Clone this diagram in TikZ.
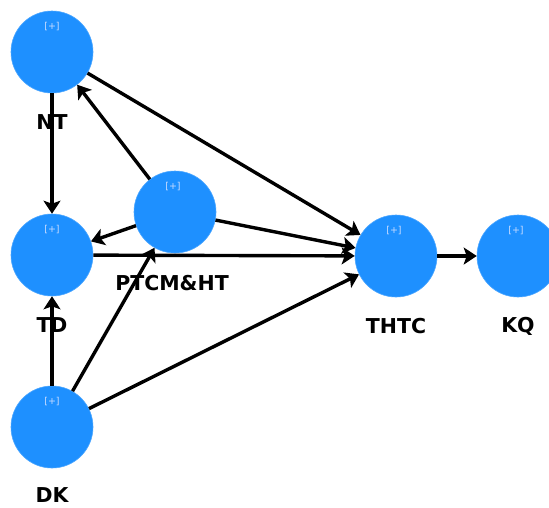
\documentclass[tikz,border=0pt]{standalone}
\usepackage{fontspec}
\setmainfont{DejaVu Sans}
\usetikzlibrary{arrows.meta}
\definecolor{lvblue}{RGB}{30,144,255}
\definecolor{plus}{RGB}{200,220,255}
\tikzset{
  lv/.style={circle, fill=lvblue, draw=lvblue!80!white, line width=0.6pt, minimum size=82pt, inner sep=0pt},
  lbl/.style={font=\bfseries\fontsize{20.5}{20}\selectfont, text=black, inner sep=0pt},
  pl/.style={font=\fontsize{9.5}{9.5}\selectfont, text=plus, inner sep=0pt},
  conn/.style={draw=black, line width=3.4pt, -{Stealth[length=13pt,width=17pt,inset=3pt]}}
}
\begin{document}
\begin{tikzpicture}[x=1pt,y=-1pt]
\useasboundingbox (0,0) rectangle (549,507);
% constructs
\node[lv] (NT) at (52,52) {};
\node[lv] (TD) at (52,255) {};
\node[lv] (DK) at (52,427) {};
\node[lv] (PT) at (175,212) {};
\node[lv] (TH) at (396,256) {};
\node[lv] (KQ) at (518,256) {};
% [+] marks
\node[pl] (pNT) at (52,27) {[+]};
\node[pl] (pTD) at (52,230) {[+]};
\node[pl] (pDK) at (52,402) {[+]};
\node[pl] (pPT) at (173,187) {[+]};
\node[pl] (pTH) at (394,231) {[+]};
\node[pl] (pKQ) at (516,231) {[+]};
% paths
\draw[conn] (NT) -- (TD);
\draw[conn] (NT) -- (TH);
\draw[conn] (PT) -- (NT);
\draw[conn] (PT) -- (TD);
\draw[conn] (PT) -- (TH);
\draw[conn] (TD) -- (TH);
\draw[conn] (DK) -- (TD);
\draw[conn] (DK) -- (PT);
\draw[conn] (DK) -- (TH);
\draw[conn] (TH) -- (KQ);
% labels
\node[lbl] (lNT) at (52,122) {NT};
\node[lbl] (lTD) at (52,325) {TD};
\node[lbl] (lDK) at (52,495) {DK};
\node[lbl] (lPT) at (172,283) {PTCM\&HT};
\node[lbl] (lTH) at (396,326) {THTC};
\node[lbl] (lKQ) at (518,326) {KQ};
\end{tikzpicture}
\end{document}
